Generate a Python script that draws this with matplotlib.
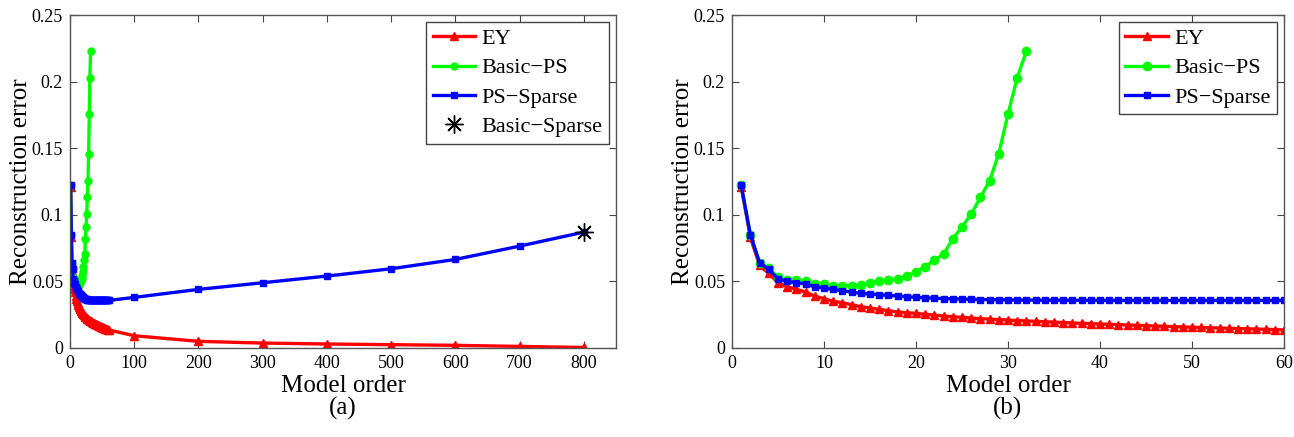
import matplotlib
matplotlib.use("Agg")
import matplotlib.pyplot as plt

plt.rcParams["font.family"] = ["Liberation Serif", "DejaVu Serif"]

# model orders 1..60 and the sparse large orders
orders = list(range(1, 61))
big_orders = [100, 200, 300, 400, 500, 600, 700, 800]

ey_small = [0.121, 0.083, 0.062, 0.056, 0.049, 0.046, 0.044, 0.042, 0.039, 0.037,
            0.035, 0.034, 0.0325, 0.031, 0.030, 0.029, 0.028, 0.027, 0.0265, 0.026,
            0.0253, 0.0247, 0.024, 0.0235, 0.023, 0.0225, 0.022, 0.0217, 0.0213, 0.021,
            0.0206, 0.0203, 0.020, 0.0197, 0.0194, 0.0191, 0.0188, 0.0185, 0.0183, 0.018,
            0.0178, 0.0175, 0.0173, 0.017, 0.0168, 0.0165, 0.0163, 0.016, 0.0158, 0.0156,
            0.0154, 0.0152, 0.015, 0.0148, 0.0146, 0.0144, 0.0142, 0.014, 0.0138, 0.0136]
ey_big = [0.0092, 0.005, 0.0037, 0.003, 0.0025, 0.002, 0.0012, 0.0004]

ps_sparse_small = [0.122, 0.085, 0.064, 0.059, 0.052, 0.050, 0.049, 0.048, 0.046, 0.045,
                   0.044, 0.043, 0.042, 0.041, 0.0405, 0.040, 0.0395, 0.039, 0.0385, 0.038,
                   0.0377, 0.0374, 0.0371, 0.0369, 0.0367, 0.0365, 0.0364, 0.0363, 0.0362, 0.0361,
                   0.0360, 0.0360, 0.0359, 0.0359, 0.0359, 0.0358, 0.0358, 0.0358, 0.0358, 0.0358,
                   0.0357, 0.0357, 0.0357, 0.0357, 0.0357, 0.0357, 0.0357, 0.0357, 0.0357, 0.0357,
                   0.0357, 0.0357, 0.0357, 0.0357, 0.0357, 0.0357, 0.0357, 0.0357, 0.0357, 0.0357]
ps_sparse_big = [0.038, 0.044, 0.049, 0.054, 0.0595, 0.0665, 0.0765, 0.087]

basic_ps_orders = list(range(1, 33))
basic_ps = [0.122, 0.085, 0.064, 0.060, 0.053, 0.051, 0.051, 0.0505, 0.048, 0.048,
            0.0467, 0.0467, 0.0467, 0.0475, 0.049, 0.050, 0.051, 0.052, 0.054, 0.057,
            0.061, 0.066, 0.0705, 0.082, 0.091, 0.1005, 0.113, 0.1255, 0.146, 0.1755,
            0.203, 0.223]

basic_sparse_x = [800]
basic_sparse_y = [0.087]

W, H = 1294, 437
fig = plt.figure(figsize=(W / 100, H / 100), dpi=100)
ax1 = fig.add_axes([70 / W, 1 - 348 / H, (616 - 70) / W, (348 - 15) / H])
ax2 = fig.add_axes([732 / W, 1 - 348 / H, (1284 - 732) / W, (348 - 15) / H])

lw = 2.4
ms = 6

# (a) full range
ax1.plot(orders + big_orders, ey_small + ey_big, color="red", marker="^",
         lw=lw, ms=ms, label="EY")
ax1.plot(basic_ps_orders, basic_ps, color="#00ff00", marker="o",
         lw=lw, ms=ms - 1, label="Basic\u2212PS")
ax1.plot(orders + big_orders, ps_sparse_small + ps_sparse_big, color="blue", marker="s",
         lw=lw, ms=ms - 1, label="PS\u2212Sparse")
ax1.plot(basic_sparse_x, basic_sparse_y, linestyle="none", marker=(8, 2, 0),
         color="black", ms=13, mew=1, label="Basic\u2212Sparse")
ax1.set_xlim(0, 850)
ax1.set_xticks([0, 100, 200, 300, 400, 500, 600, 700, 800])

# (b) zoom on small orders
ax2.plot(orders, ey_small, color="red", marker="^", lw=lw, ms=ms, label="EY")
ax2.plot(basic_ps_orders, basic_ps, color="#00ff00", marker="o",
         lw=lw, ms=ms, label="Basic\u2212PS")
ax2.plot(orders, ps_sparse_small, color="blue", marker="s", lw=lw, ms=ms - 1,
         label="PS\u2212Sparse")
ax2.set_xlim(0, 60)
ax2.set_xticks([0, 10, 20, 30, 40, 50, 60])

for ax, cap in [(ax1, "(a)"), (ax2, "(b)")]:
    ax.set_ylim(0, 0.25)
    ax.set_yticks([0, 0.05, 0.1, 0.15, 0.2, 0.25])
    ax.set_yticklabels(["0", "0.05", "0.1", "0.15", "0.2", "0.25"])
    ax.tick_params(direction="in", top=True, right=True, length=5, width=0.8,
                   labelsize=13, colors="#444444", labelcolor="black", pad=5)
    for s in ax.spines.values():
        s.set_color("#555555")
        s.set_linewidth(1)
    ax.set_xlabel("Model order", fontsize=18, labelpad=2)
    ax.set_ylabel("Reconstruction error", fontsize=18, labelpad=0)
    leg = ax.legend(loc="upper right", fontsize=16, handlelength=1.9,
                    handletextpad=0.3, borderaxespad=0.3, labelspacing=0.4,
                    fancybox=False, framealpha=1, borderpad=0.3)
    leg.get_frame().set_edgecolor("#444444")
    leg.get_frame().set_linewidth(1)
    pos = ax.get_position()
    fig.text((pos.x0 + pos.x1) / 2, 1 - 408 / H, cap, ha="center", va="center",
             fontsize=18)

fig.savefig("out.png", dpi=100)
